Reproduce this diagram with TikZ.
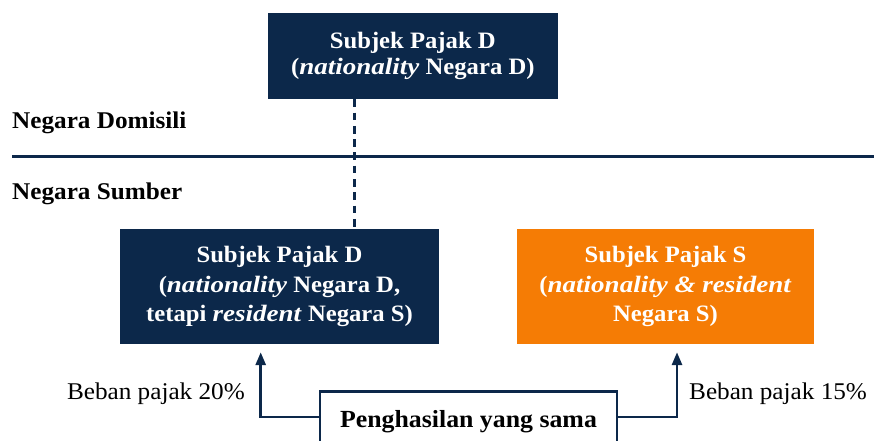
\documentclass[tikz,border=0pt]{standalone}
\usepackage{fontspec}
\setmainfont{Liberation Serif}[FakeStretch=1.05,
  ItalicFeatures={FakeStretch=1.15}, BoldItalicFeatures={FakeStretch=1.15}]
\usetikzlibrary{arrows.meta,calc}
\definecolor{navy}{RGB}{12,40,74}
\definecolor{orng}{RGB}{245,124,5}
\tikzset{
  box/.style={inner sep=0pt, align=center, text=white, font=\fontsize{23.5}{29.3}\selectfont\bfseries},
  navybox/.style={box, fill=navy},
  orangebox/.style={box, fill=orng},
  heading/.style={inner sep=0pt, font=\fontsize{24}{28}\selectfont\bfseries, text=black},
  lbl/.style={inner sep=0pt, font=\fontsize{24}{28}\selectfont, text=black},
  arr/.style={draw=navy, line width=2.8pt, -{Triangle[width=10pt,length=13pt]}},
  dashline/.style={draw=navy, line width=3pt, dash pattern=on 7.7pt off 5.6pt},
}
\begin{document}
\begin{tikzpicture}[x=1pt,y=-1pt]
\useasboundingbox (0,0) rectangle (874,441);
\clip (0,0) rectangle (874,441);
\fill[white] (0,0) rectangle (874,441);

% boxes
\node[navybox, minimum width=289.7pt, minimum height=86pt,
      font=\fontsize{23.5}{26}\selectfont\bfseries] (tb) at (412.8,56)
  {Subjek Pajak D\\(\textit{nationality} Negara D)};
\node[navybox, minimum width=319pt, minimum height=115pt] (lb) at (279.5,286.5)
  {Subjek Pajak D\\(\textit{nationality} Negara D,\\tetapi \textit{resident} Negara S)};
\node[orangebox, minimum width=297pt, minimum height=115pt] (rb) at (665.5,286.5)
  {Subjek Pajak S\\(\textit{nationality \& resident}\\Negara S)};
\node[draw=navy, line width=2.8pt, fill=white, minimum width=297pt, minimum height=90pt,
      anchor=north, inner sep=0pt] (pb) at (468.5,390) {};
\node[heading, anchor=base, font=\fontsize{24.6}{28}\selectfont\bfseries] (pbt) at (468.5,427) {Penghasilan yang sama};

% headings
\node[heading, anchor=base west] (dom) at (12,128.3) {Negara Domisili};
\node[heading, anchor=base west] (sum) at (12,199) {Negara Sumber};

% separator line
\coordinate (hl) at (12,156);
\coordinate (hr) at (874,156);
\draw[navy, line width=3pt] (hl) -- (hr);

% dashed link
\coordinate (dx) at (354,0);
\draw[dashline] (tb.south -| dx) -- (lb.north -| dx);

% arrows
\coordinate (la) at (260.7,417);
\coordinate (ra) at (677,417);
\draw[arr] (pb.west |- la) -| ([yshift=-8pt]lb.south -| la);
\draw[arr] (pb.east |- ra) -| ([yshift=-8pt]rb.south -| ra);

% tax labels
\node[lbl, anchor=base east] (bl) at (245,399) {Beban pajak 20\%};
\node[lbl, anchor=base west] (br) at (689,399) {Beban pajak 15\%};
\end{tikzpicture}
\end{document}
